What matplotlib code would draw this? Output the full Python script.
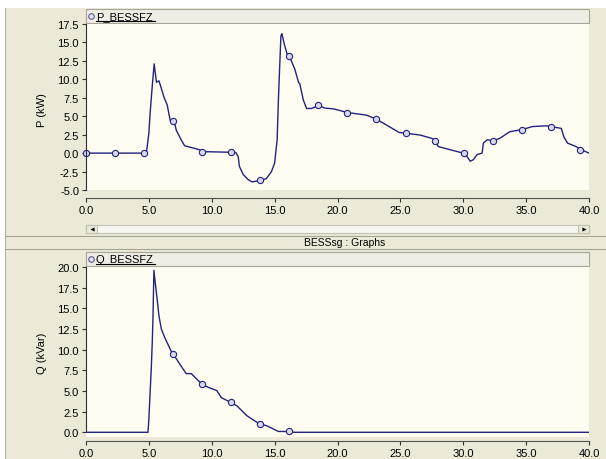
import matplotlib
matplotlib.use("Agg")
import matplotlib.pyplot as plt
from matplotlib.patches import Rectangle

plt.rcParams['font.family'] = ['Liberation Sans', 'DejaVu Sans']

# P_BESSFZ curve (t in s, P in kW)
t_p = [0, 4.8, 5.0, 5.1, 5.24, 5.33, 5.42, 5.5, 5.6, 5.7, 5.8, 5.95, 6.2, 6.46, 6.7, 6.9,
       7.0, 7.18, 7.57, 7.84, 9.04, 9.3, 11.9, 12.1, 12.2, 12.5, 12.9, 13.2, 13.9, 14.35,
       14.75, 15.0, 15.2, 15.3, 15.4, 15.5, 15.58, 15.76, 16.0, 16.2, 16.6, 16.9, 17.0,
       17.28, 17.54, 17.94, 18.3, 18.5, 19.0, 19.67, 20.8, 22.3, 23.1, 23.9, 24.9, 25.4,
       26.57, 27.5, 27.8, 28.0, 28.97, 30.0, 30.3, 30.55, 30.8, 31.1, 31.5, 31.6, 31.9,
       32.4, 32.9, 33.7, 34.7, 35.5, 36.6, 37.0, 37.8, 38.0, 38.3, 38.96, 39.4, 40.0]
p_vals = [0, 0, 2.7, 5.4, 8.5, 10.3, 12.1, 11.0, 9.6, 9.7, 9.8, 9.0, 7.6, 6.5, 4.4, 4.3,
          4.4, 3.1, 1.8, 1.0, 0.45, 0.2, 0.1, -0.45, -1.8, -2.9, -3.6, -3.9, -3.7, -3.45,
          -2.5, -1.35, 1.8, 7.2, 11.6, 15.9, 16.2, 14.8, 13.4, 13.0, 11.4, 9.6, 9.4,
          7.2, 6.05, 6.05, 6.3, 6.45, 6.1, 6.0, 5.5, 5.15, 4.6, 3.8, 2.8, 2.7,
          2.45, 2.0, 1.7, 0.9, 0.45, 0.0, -0.45, -1.1, -0.9, -0.2, 0.0, 1.35, 1.8,
          1.7, 2.0, 2.9, 3.2, 3.6, 3.7, 3.6, 3.35, 2.2, 1.35, 0.9, 0.45, 0.0]
t_p_mk = [0, 2.31, 4.62, 6.93, 9.24, 11.55, 13.86, 16.17, 18.48, 20.79, 23.1, 25.41,
          27.72, 30.03, 32.34, 34.65, 36.96, 39.27]
p_mk = [0, 0, 0, 4.4, 0.2, 0.1, -3.7, 13.2, 6.5, 5.5, 4.6, 2.7, 1.7, 0.0, 1.7, 3.2, 3.6, 0.45]

# Q_BESSFZ curve (t in s, Q in kVar)
t_q = [0, 4.93, 5.0, 5.06, 5.19, 5.27, 5.33, 5.4, 5.5, 5.65, 5.8, 5.99, 6.25, 6.5, 6.87,
       7.18, 7.7, 7.97, 8.37, 8.77, 9.2, 9.7, 10.4, 10.76, 11.4, 12.0, 12.8, 13.8, 14.35,
       14.9, 15.3, 16.2, 16.5, 40.0]
q_vals = [0, 0, 1.6, 3.6, 7.7, 10.9, 14.1, 19.6, 18.2, 16.2, 14.1, 12.5, 11.5, 10.7, 9.5,
          8.9, 7.7, 7.1, 7.1, 6.5, 5.85, 5.45, 5.05, 4.2, 3.7, 3.2, 2.0, 1.0, 0.8,
          0.4, 0.1, 0.1, 0.0, 0.0]
t_q_mk = [6.93, 9.24, 11.55, 13.86, 16.17]
q_mk = [9.5, 5.85, 3.7, 1.0, 0.1]

xticks = [0, 5, 10, 15, 20, 25, 30, 35, 40]
p_ticks = [-5, -2.5, 0, 2.5, 5, 7.5, 10, 12.5, 15, 17.5]
q_ticks = [0, 2.5, 5, 7.5, 10, 12.5, 15, 17.5, 20]

W, H = 606, 460
grey = '#ECE9D8'
cream = '#FFFCF2'
navy = '#23237E'
edge = '#A8A495'


def box(x0, y0, x1, y1):
    return [x0 / W, 1 - y1 / H, (x1 - x0) / W, (y1 - y0) / H]


fig = plt.figure(figsize=(W / 100, H / 100), dpi=100)
fig.patch.set_facecolor('white')

# window chrome drawn in pixel coordinates
bg = fig.add_axes([0, 0, 1, 1])
bg.set_xlim(0, W)
bg.set_ylim(H, 0)
bg.axis('off')
bg.add_patch(Rectangle((5, 9), W - 5, H - 9, fc=grey, ec='none'))
bg.plot([5, 5], [9, H], color='#B5B2A4', lw=0.8)

# legend header bars
for y0, name in [(10, 'P_BESSFZ'), (253, 'Q_BESSFZ')]:
    bg.add_patch(Rectangle((86, y0), 503, 14, fc='#EFEDE4', ec=edge, lw=0.8))
    bg.plot([91], [y0 + 7], 'o', ms=4, mfc='#E4E4F4', mec='#5A5A9A', mew=0.8)
    bg.text(96, y0 + 7.5, name, fontsize=8, ha='left', va='center')
    bg.plot([96, 155], [y0 + 12, y0 + 12], color='black', lw=0.8)

# scrollbar
bg.add_patch(Rectangle((86, 226), 503, 8, fc='#F6F5F0', ec='#C3BFB1', lw=0.8))
bg.add_patch(Rectangle((86, 226), 11, 8, fc=grey, ec='#C3BFB1', lw=0.8))
bg.add_patch(Rectangle((578, 226), 11, 8, fc=grey, ec='#C3BFB1', lw=0.8))
bg.plot([91.5], [230], marker='<', ms=3, color='black', mew=0)
bg.plot([583.5], [230], marker='>', ms=3, color='black', mew=0)

# title bar
bg.plot([5, W], [237, 237], color=edge, lw=0.8)
bg.plot([5, W], [250, 250], color=edge, lw=0.8)
bg.text(345, 243.5, 'BESSsg : Graphs', fontsize=7.5, ha='center', va='center')

# axis titles
bg.text(42, 110, 'P (kW)', fontsize=8, rotation=90, ha='center', va='center')
bg.text(42, 353, 'Q (kVar)', fontsize=8, rotation=90, ha='center', va='center')


def style(ax, ylim, yticks, offset):
    ax.set_facecolor(cream)
    ax.set_xlim(0, 40)
    ax.set_ylim(*ylim)
    ax.set_xticks(xticks)
    ax.set_xticklabels([f'{v:.1f}' for v in xticks])
    ax.set_yticks(yticks)
    ax.set_yticklabels([f'{v:.1f}' for v in yticks])
    for s in ['top', 'right']:
        ax.spines[s].set_visible(False)
    ax.spines['left'].set_bounds(yticks[0], yticks[-1])
    ax.spines['left'].set_color('#303030')
    ax.spines['bottom'].set_color('#505050')
    ax.spines['bottom'].set_position(('outward', offset))
    ax.tick_params(direction='out', length=3, width=0.8, color='#303030',
                   labelsize=8, pad=2)


ax1 = fig.add_axes(box(86, 25, 589, 191))
style(ax1, (-5, 17.5), p_ticks, 5.8)
ax1.plot(t_p, p_vals, color=navy, lw=1.0)
ax1.plot(t_p_mk, p_mk, 'o', ms=4.5, mfc='#D8D8EE', mec=navy, mew=0.8, clip_on=False)

ax2 = fig.add_axes(box(86, 268, 589, 438))
style(ax2, (-0.57, 20), q_ticks, 3)
ax2.plot(t_q, q_vals, color=navy, lw=1.0)
ax2.plot(t_q_mk, q_mk, 'o', ms=4.5, mfc='#D8D8EE', mec=navy, mew=0.8)

fig.savefig('out.png', dpi=100)
